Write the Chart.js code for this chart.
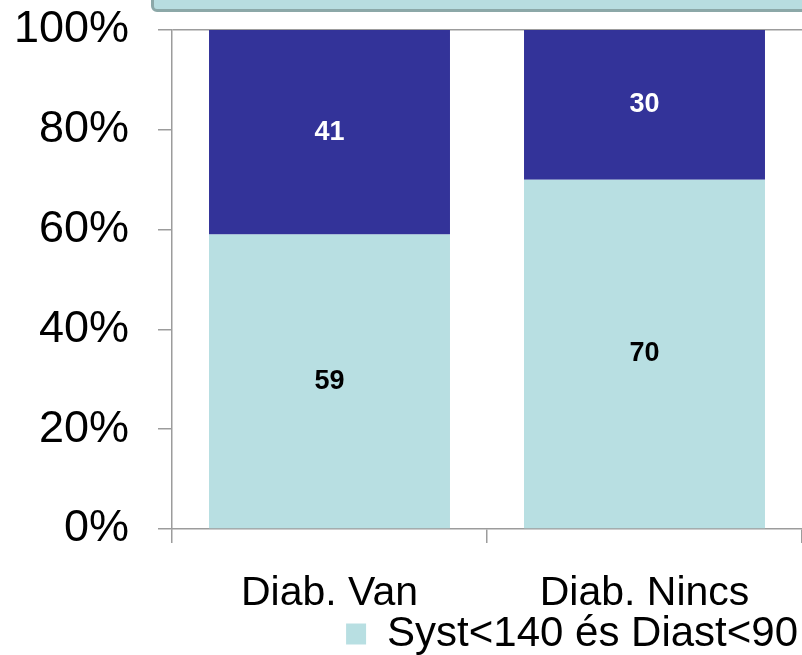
<!DOCTYPE html>
<html>
<head>
<meta charset="utf-8">
<script src="https://cdn.jsdelivr.net/npm/chart.js@4.4.1/dist/chart.umd.min.js"></script>
<style>
    body { margin: 0; background: #fff; overflow: hidden; }
    #wrap { position: relative; width: 802px; height: 665px; }
    #titleBox {
        position: absolute; left: 151px; top: -20px; width: 700px; height: 26px;
        background: #b8dde0; border: 3px solid #8ca8a8; border-radius: 6px;
    }
</style>
</head>
<body>
<div id="wrap">
    <div id="titleBox"></div>
    <canvas id="chart"></canvas>
</div>
<script>
// Categories and stacked percentages
const categories = ["Diab. Van", "Diab. Nincs"];
const normalValues = [59, 70];   // Syst<140 és Diast<90
const highValues = [41, 30];     // the rest (dark segment)
const yTicks = [0, 20, 40, 60, 80, 100];

// Draw the numbers in the middle of each segment
const segmentLabels = {
    id: "segmentLabels",
    afterDatasetsDraw(chart) {
        const ctx = chart.ctx;
        ctx.save();
        ctx.font = "bold 27px 'Liberation Sans', Arial, sans-serif";
        ctx.textAlign = "center";
        ctx.textBaseline = "middle";
        chart.data.datasets.forEach((ds, i) => {
            const meta = chart.getDatasetMeta(i);
            ctx.fillStyle = i === 1 ? "#ffffff" : "#000000";
            meta.data.forEach((bar, j) => {
                ctx.fillText(ds.data[j], bar.x, (bar.y + bar.base) / 2);
            });
        });
        ctx.restore();
    }
};

const axisGray = "#9c9c9c";
const fontFamily = "'Liberation Sans', Arial, sans-serif";

new Chart(document.getElementById("chart"), {
    type: "bar",
    data: {
        labels: categories,
        datasets: [
            {
                label: "Syst<140 és Diast<90",
                data: normalValues,
                backgroundColor: "#b8dfe2"
            },
            {
                label: "Syst>=140 vagy Diast>=90",
                data: highValues,
                backgroundColor: "#333399"
            }
        ]
    },
    options: {
        responsive: true,
        maintainAspectRatio: false,
        animation: false,
        layout: { padding: { top: 30, left: 0, right: 0, bottom: 0 } },
        datasets: { bar: { categoryPercentage: 1, barPercentage: 0.765 } },
        plugins: {
            tooltip: { enabled: false },
            legend: {
                position: "bottom",
                align: "end",
                labels: {
                    filter: item => item.datasetIndex === 0,
                    boxWidth: 20,
                    boxHeight: 21,
                    padding: 4,
                    color: "#000",
                    font: { family: fontFamily, size: 42 }
                }
            }
        },
        scales: {
            x: {
                stacked: true,
                afterFit: axis => { axis.height = 80; },
                grid: {
                    offset: true,
                    drawOnChartArea: false,
                    drawTicks: true,
                    tickLength: 14,
                    color: axisGray,
                    lineWidth: 1.5
                },
                border: { color: axisGray, width: 1.5 },
                ticks: {
                    padding: 34,
                    color: "#000",
                    font: { family: fontFamily, size: 41, lineHeight: 0.8 }
                }
            },
            y: {
                stacked: true,
                min: 0,
                max: 100,
                afterBuildTicks: axis => { axis.ticks = yTicks.map(v => ({ value: v })); },
                afterFit: axis => {
                    axis.width = 172;
                    axis.paddingTop = 0;
                    axis.paddingBottom = 0;
                },
                grid: {
                    color: c => c.tick && c.tick.value === 100 ? axisGray : "rgba(0,0,0,0)",
                    tickColor: axisGray,
                    tickLength: 14,
                    lineWidth: 1.5
                },
                border: { color: axisGray, width: 1.5 },
                ticks: {
                    padding: 29,
                    color: "#000",
                    callback: v => v + "%",
                    font: { family: fontFamily, size: 45 }
                }
            }
        }
    },
    plugins: [segmentLabels]
});
</script>
</body>
</html>
